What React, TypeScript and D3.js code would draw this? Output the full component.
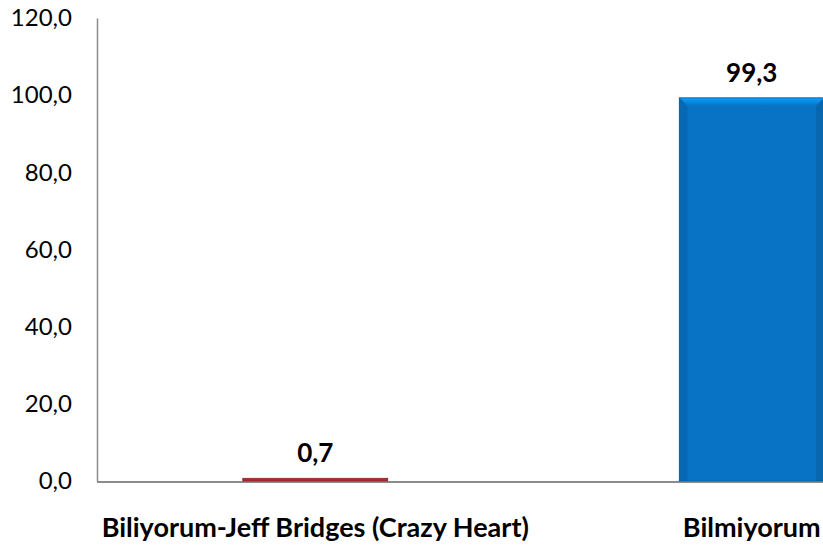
import React, { useEffect, useRef } from 'react';
import * as d3 from 'd3';

const categories = ["Biliyorum-Jeff Bridges (Crazy Heart)", "Bilmiyorum"];
const values = [0.7, 99.3];
const barColors = ["#B3282D", "#0873C4"];
const yTicks = [0, 20, 40, 60, 80, 100, 120];

const fmt = (v: number) => v.toFixed(1).replace(".", ",");

const drawChart = (el: SVGSVGElement) => {
	const width = 823;
	const height = 548;
	const svg = d3.select(el);
	svg.selectAll("*").remove();
	svg.attr("width", width).attr("height", height);

	const left = 97;
	const base = 481;

	// chart is cropped on the right, so the band range runs past the svg edge
	const x = d3.scaleBand<string>()
		.domain(categories)
		.range([left, left + 873])
		.paddingInner(0.668)
		.paddingOuter(0.334);

	const y = d3.scaleLinear()
		.domain([0, 120])
		.range([base, 18]);

	const font = "Lato, 'Open Sans', sans-serif";

	const defs = svg.append("defs");
	barColors.forEach((c, i) => {
		const g = defs.append("linearGradient")
			.attr("id", "bev" + i)
			.attr("x1", 0).attr("x2", 0).attr("y1", 0).attr("y2", 1);
		g.append("stop").attr("offset", "0%").attr("stop-color", d3.color(c)!.brighter(0.9).formatHex());
		g.append("stop").attr("offset", "100%").attr("stop-color", c);
	});

	// y axis
	const yAxis = svg.append("g")
		.attr("transform", `translate(${left},0)`)
		.call(d3.axisLeft(y).tickValues(yTicks).tickSize(0).tickPadding(25).tickFormat(d => fmt(d as number)));
	yAxis.select(".domain").attr("stroke", "#8c8c8c").attr("stroke-width", 1.5);
	yAxis.selectAll("text")
		.style("font-family", font)
		.style("font-size", "24px")
		.attr("fill", "#000");

	// baseline
	svg.append("line")
		.attr("x1", left).attr("x2", width)
		.attr("y1", base + 1).attr("y2", base + 1)
		.attr("stroke", "#8c8c8c")
		.attr("stroke-width", 2);

	// bars
	const bars = svg.append("g");
	categories.forEach((c, i) => {
		const x0 = x(c) as number;
		const w = x.bandwidth();
		const top = y(values[i]);
		const h = base - top;
		bars.append("rect")
			.attr("x", x0).attr("y", top)
			.attr("width", w).attr("height", h)
			.attr("fill", barColors[i]);
		const bev = Math.min(8, h / 3);
		if (bev > 1) {
			bars.append("path")
				.attr("d", `M${x0},${top}L${x0 + w},${top}L${x0 + w - bev},${top + bev}L${x0 + bev},${top + bev}Z`)
				.attr("fill", `url(#bev${i})`);
			bars.append("path")
				.attr("d", `M${x0},${top}L${x0 + bev},${top + bev}L${x0 + bev},${base}L${x0},${base}Z`)
				.attr("fill", d3.color(barColors[i])!.darker(0.25).formatHex());
			bars.append("path")
				.attr("d", `M${x0 + w},${top}L${x0 + w - bev},${top + bev}L${x0 + w - bev},${base}L${x0 + w},${base}Z`)
				.attr("fill", d3.color(barColors[i])!.darker(0.35).formatHex());
		}
		bars.append("rect")
			.attr("x", x0).attr("y", top)
			.attr("width", w).attr("height", h)
			.attr("fill", "none")
			.attr("stroke", d3.color(barColors[i])!.darker(0.6).formatHex())
			.attr("stroke-width", 0.8);

		svg.append("text")
			.attr("x", x0 + w / 2)
			.attr("y", top - 16)
			.attr("text-anchor", "middle")
			.style("font-family", font)
			.style("font-weight", "bold")
			.style("font-size", "26px")
			.text(fmt(values[i]));

		svg.append("text")
			.attr("x", x0 + w / 2)
			.attr("y", 537)
			.attr("text-anchor", "middle")
			.style("font-family", font)
			.style("font-weight", "bold")
			.style("font-size", "27px")
			.text(c);
	});
};

export default function App() {
	const ref = useRef<SVGSVGElement>(null);
	useEffect(() => {
		if (ref.current) drawChart(ref.current);
	}, []);
	return (
		<svg ref={ref} style={{ position: "absolute", left: 0, top: 0, background: "#fff" }} />
	);
}
